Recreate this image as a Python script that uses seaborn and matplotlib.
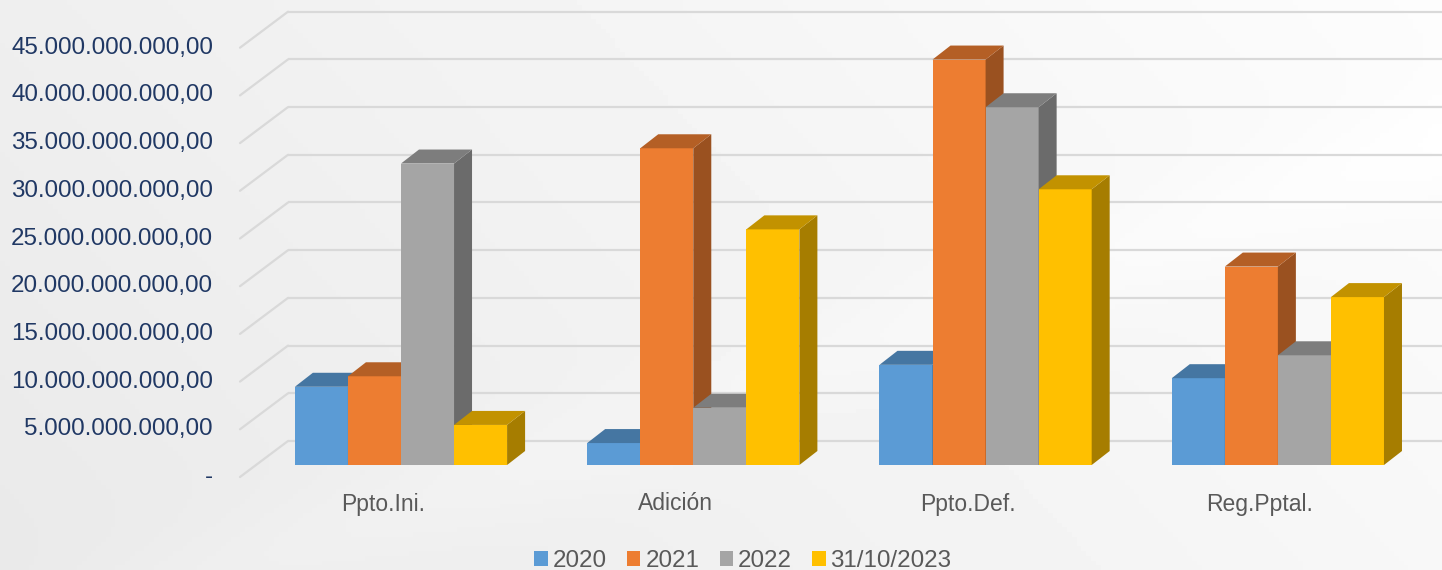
import numpy as np
import pandas as pd
import seaborn as sns
import matplotlib
matplotlib.use("Agg")
import matplotlib.pyplot as plt
import matplotlib.transforms as mtransforms
from matplotlib.patches import Polygon, Patch
from matplotlib.lines import Line2D
from matplotlib.colors import to_rgb

# -------------------------
# data (pesos)
# -------------------------
categories = ["Ppto.Ini.", "Adición", "Ppto.Def.", "Reg.Pptal."]
series_names = ["2020", "2021", "2022", "31/10/2023"]
v2020 = [8.2e9, 2.3e9, 10.5e9, 9.1e9]
v2021 = [9.3e9, 33.2e9, 42.5e9, 20.8e9]
v2022 = [31.6e9, 6.0e9, 37.5e9, 11.5e9]
v2023 = [4.2e9, 24.7e9, 28.9e9, 17.6e9]
y_ticks = [0, 5e9, 10e9, 15e9, 20e9, 25e9, 30e9, 35e9, 40e9, 45e9]

colors = ["#5B9BD5", "#ED7D31", "#A5A5A5", "#FFC000"]
grid_col = "#D9D9D9"
tick_col = "#203864"
text_col = "#595959"

df = pd.DataFrame({
    "cat": categories * 4,
    "serie": [s for s in series_names for _ in categories],
    "valor": v2020 + v2021 + v2022 + v2023,
})

# -------------------------
# figure
# -------------------------
sns.set_theme(style="white")
plt.rcParams["font.family"] = ["Liberation Sans", "DejaVu Sans"]

W, H = 1442, 570
fig = plt.figure(figsize=(W / 100, H / 100), dpi=100)

# soft grey background
bg = fig.add_axes([0, 0, 1, 1], zorder=-10)
gx, gy = np.meshgrid(np.linspace(0, 1, 300), np.linspace(0, 1, 120))
shade = 0.915 + 0.055 * gx + 0.02 * gy + 0.012 * np.exp(-((gy - 0.9 * gx + 0.15) ** 2) / 0.01)
bg.imshow(np.clip(shade, 0, 1), cmap="gray", vmin=0, vmax=1, aspect="auto",
          extent=[0, 1, 0, 1], origin="lower")
bg.axis("off")

# axes = plane of the bar fronts
ax = fig.add_axes([256 / W, 105 / H, (1410 - 256) / W, 429.3 / H])
ax.patch.set_alpha(0)
sns.barplot(data=df, x="cat", y="valor", hue="serie", hue_order=series_names,
            palette=colors, saturation=1, width=0.726, legend=False,
            errorbar=None, ax=ax, linewidth=0)
ax.set_xlim(-0.496, 3.452)
ax.set_ylim(0, 45e9)
ax.axis("off")


def shift(dx, dy, base):
    return base + mtransforms.ScaledTranslation(dx / fig.dpi, dy / fig.dpi, fig.dpi_scale_trans)


blend = mtransforms.blended_transform_factory(ax.transAxes, ax.transData)
blend_fig = mtransforms.blended_transform_factory(fig.transFigure, ax.transData)

# back-wall gridlines and left-wall slants
back = (32, 24)
front = (-16, -12)
for v in y_ticks:
    ax.plot([0, 1], [v, v], transform=shift(*back, blend), color=grid_col,
            lw=1.6, zorder=0, clip_on=False, solid_capstyle="butt")
    p0 = shift(*front, blend).transform((0, v))
    p1 = shift(*back, blend).transform((0, v))
    f0, f1 = fig.transFigure.inverted().transform([p0, p1])
    fig.add_artist(Line2D([f0[0], f1[0]], [f0[1], f1[1]], transform=fig.transFigure,
                          color=grid_col, lw=1.6, zorder=0))
    lab = "-" if v == 0 else f"{int(v):,}".replace(",", ".") + ",00"
    ax.text(213 / W, v, lab, transform=shift(0, -12, blend_fig), ha="right",
            va="center", fontsize=17.4, color=tick_col)

# 3D top/side faces built from the seaborn bars
o = ax.transData.transform((0, 0))
px_x, px_y = ax.transData.transform((1, 1e9)) - o
ddx = 18 / px_x
ddy = 14 / px_y * 1e9

bars = sorted(ax.patches, key=lambda p: p.get_x())
for k, b in enumerate(bars):
    x, w, h = b.get_x(), b.get_width(), b.get_height()
    c = np.array(to_rgb(b.get_facecolor()))
    z = 2 + 3 * k
    b.set_zorder(z)
    top = Polygon([(x, h), (x + w, h), (x + w + ddx, h + ddy), (x + ddx, h + ddy)],
                  closed=True, facecolor=c * 0.76, edgecolor="none", zorder=z + 1, clip_on=False)
    side = Polygon([(x + w, 0), (x + w, h), (x + w + ddx, h + ddy), (x + w + ddx, ddy)],
                   closed=True, facecolor=c * 0.65, edgecolor="none", zorder=z + 1, clip_on=False)
    ax.add_patch(side)
    ax.add_patch(top)

# category labels
for i, name in enumerate(categories):
    ax.text(i, 0, name, transform=shift(-18, -39, ax.transData), ha="center",
            va="center", fontsize=16.5, color=text_col)

# legend
handles = [Patch(facecolor=c, edgecolor="none") for c in colors]
fig.legend(handles, series_names, loc="center", bbox_to_anchor=(743 / W, 1 - 561 / H),
           ncol=4, frameon=False, fontsize=17.4, labelcolor=text_col,
           handlelength=0.55, handleheight=0.55, handletextpad=0.2, columnspacing=0.85)

fig.savefig("out.png", dpi=100)
